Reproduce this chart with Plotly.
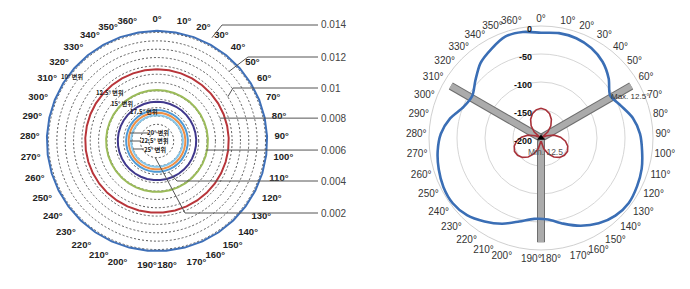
import math
import plotly.graph_objects as go

# ---------------- data ----------------
angle_labels = [f"{d}°" for d in range(0, 361, 10)]  # 37 category labels (0°..360°)

# Left chart: level for each displacement (circles, constant around)
disp_labels = ["10° 변위", "12.5° 변위", "15° 변위", "17.5° 변위", "20° 변위", "22.5° 변위", "25° 변위"]
disp_10 = [0.0132] * 37
disp_12_5 = [0.0086] * 37
disp_15 = [0.0061] * 37
disp_17_5 = [0.0047] * 37
disp_20 = [0.0037] * 37
disp_22_5 = [0.0034] * 37
disp_25 = [0.0031] * 37
disp_series = [disp_10, disp_12_5, disp_15, disp_17_5, disp_20, disp_22_5, disp_25]
left_radial_labels = [0.014, 0.012, 0.010, 0.008, 0.006, 0.004, 0.002]

# Right chart: gain pattern (dB)
blue_gain = [-12, -10, -11, -16, -25, -39, -55, -46, -32, -23, -18, -12, -8, -5, -8, -16,
             -28, -42, -54, -55, -46, -32, -20, -9, -4, -5, -9, -14, -21, -34, -51, -56,
             -44, -28, -18, -8, -8]
red_gain = [-147, -149, -154, -162, -172, -184, -198, -189, -176, -165, -156, -150, -147,
            -148, -152, -159, -169, -180, -193, -193, -180, -169, -159, -152, -148, -147,
            -150, -156, -165, -176, -189, -198, -184, -172, -162, -154, -149]
right_radial_ticks = [-200, -150, -100, -50, 0]
bar_angles = [60, 180, 300]
bar_reach = -14

# ---------------- style / layout ----------------
W, H = 690, 289
disp_colors = ["#3E6FB7", "#B8353A", "#9BBB59", "#40388C", "#4E9AD6", "#EE8F45", "#86C5E8"]

LC = (157, 141, 117)   # left polar center x, y and radius in px
RC = (541, 138, 112)   # right polar center x, y and radius in px


def dom(c):
    cx, cy, r = c
    return dict(x=[(cx - r) / W, (cx + r) / W], y=[1 - (cy + r) / H, 1 - (cy - r) / H])


def px(x, y):
    return x / W, 1 - y / H


def left_point(value, ang):
    cx, cy, R = LC
    rr = value / 0.014 * R
    return cx + rr * math.sin(math.radians(ang)), cy - rr * math.cos(math.radians(ang))


fig = go.Figure()

# left chart traces
for vals, col in zip(disp_series, disp_colors):
    fig.add_trace(go.Scatterpolar(
        r=vals + [vals[0]], theta=angle_labels + [angle_labels[0]], mode="lines",
        line=dict(color=col, width=2), subplot="polar", showlegend=False, hoverinfo="skip"))

# right chart: grid + labels carrier
fig.add_trace(go.Scatterpolar(r=[-200] * 37, theta=angle_labels, mode="markers",
                              marker=dict(size=1, opacity=0), subplot="polar2",
                              showlegend=False, hoverinfo="skip"))
# bars
for a in bar_angles:
    fig.add_trace(go.Scatterpolar(r=[-200, bar_reach], theta=[a, a], mode="lines",
                                  line=dict(color="#6E6E6E", width=8), subplot="polar3",
                                  showlegend=False, hoverinfo="skip"))
    fig.add_trace(go.Scatterpolar(r=[-200, bar_reach], theta=[a, a], mode="lines",
                                  line=dict(color="#ABABAB", width=6), subplot="polar3",
                                  showlegend=False, hoverinfo="skip"))
# data
fig.add_trace(go.Scatterpolar(r=blue_gain + [blue_gain[0]], theta=angle_labels + [angle_labels[0]],
                              mode="lines", line=dict(color="#3A6EB5", width=2.6, shape="spline", smoothing=0.8),
                              subplot="polar4", showlegend=False, hoverinfo="skip"))
fig.add_trace(go.Scatterpolar(r=red_gain + [red_gain[0]], theta=angle_labels + [angle_labels[0]],
                              mode="lines", line=dict(color="#A8323A", width=1.6, shape="linear"),
                              subplot="polar4", showlegend=False, hoverinfo="skip"))
fig.add_trace(go.Scatterpolar(r=[-200], theta=[angle_labels[0]], mode="markers",
                              marker=dict(symbol="triangle-up", size=7, color="black"),
                              subplot="polar4", showlegend=False, hoverinfo="skip"))

hidden_ang = dict(visible=False, direction="clockwise", rotation=90)
fig.update_layout(
    width=W, height=H, margin=dict(l=0, r=0, t=0, b=0),
    paper_bgcolor="white", plot_bgcolor="white", showlegend=False,
    polar=dict(
        domain=dom(LC), bgcolor="white",
        angularaxis=dict(type="category", categoryorder="array", categoryarray=angle_labels,
                         direction="clockwise", rotation=90, showgrid=False, showline=False,
                         ticks="", tickfont=dict(size=9.5, color="#222", family="Liberation Sans", weight="bold")),
        radialaxis=dict(range=[0, 0.01402], tickvals=[i / 1000 for i in range(1, 15)],
                        showticklabels=False, ticks="", showline=False,
                        gridcolor="#5A5A5A", griddash="2px,2px", gridwidth=1.3),
    ),
    polar2=dict(
        domain=dom(RC), bgcolor="white",
        angularaxis=dict(type="category", categoryorder="array", categoryarray=angle_labels,
                         direction="clockwise", rotation=90, showgrid=False, showline=True,
                         linecolor="#D0D0D0", linewidth=1, ticks="",
                         tickfont=dict(size=10, color="#333", family="Liberation Sans")),
        radialaxis=dict(range=[-200, 0], tickvals=right_radial_ticks, showline=False, ticks="",
                        gridcolor="#D6D6D6", gridwidth=1, angle=90, showticklabels=False),
    ),
    polar3=dict(
        domain=dom(RC), bgcolor="rgba(0,0,0,0)",
        angularaxis=dict(visible=False, direction="clockwise", rotation=90, thetaunit="degrees"),
        radialaxis=dict(visible=False, range=[-200, 0]),
    ),
    polar4=dict(
        domain=dom(RC), bgcolor="rgba(0,0,0,0)",
        angularaxis=dict(type="category", categoryorder="array", categoryarray=angle_labels, **hidden_ang),
        radialaxis=dict(visible=False, range=[-200, 0]),
    ),
)

# leader lines and value labels for left chart
leader_angle = [28, 46, 58, 70, 100.4, 159, 186]
leader_elbow_x = [222, 248, 233, None, None, 177, 185]
leader_y = [25, 57, 88, 118, 150, 181, 213]
shapes = []
annots = []
for val, ang, ex, ly in zip(left_radial_labels, leader_angle, leader_elbow_x, leader_y):
    x0, y0 = left_point(val, ang)
    if ex is None:
        ex = x0
        ly_line = y0
    else:
        ly_line = ly
    a0 = px(x0, y0)
    a1 = px(ex, ly_line)
    a2 = px(318, ly_line)
    line = dict(color="#555", width=1)
    if ex != x0:
        shapes.append(dict(type="line", xref="paper", yref="paper", x0=a0[0], y0=a0[1], x1=a1[0], y1=a1[1], line=line))
    shapes.append(dict(type="line", xref="paper", yref="paper", x0=a1[0], y0=a1[1], x1=a2[0], y1=a2[1], line=line))
    tx, ty = px(319, ly_line)
    annots.append(dict(x=tx, y=ty, xref="paper", yref="paper", text=f"{val:g}", showarrow=False,
                       xanchor="left", yanchor="middle", font=dict(size=10, color="#444", family="Liberation Sans")))

# displacement labels on the left chart
disp_label_pos = [(72, 77), (110, 92), (122, 103), (143, 112), (158, 133), (154, 141), (155, 149)]
for txt, (lx, ly) in zip(disp_labels, disp_label_pos):
    ax_, ay_ = px(lx, ly)
    annots.append(dict(x=ax_, y=ay_, xref="paper", yref="paper", text=txt, showarrow=False,
                       xanchor="center", yanchor="middle",
                       font=dict(size=6, color="#222", family="Noto Sans CJK KR", weight="bold")))
for (x0, x1, yy) in [(130, 148, 133), (130, 141, 141), (133, 144, 149)]:
    a, b = px(x0, yy)
    c, d = px(x1, yy)
    shapes.append(dict(type="line", xref="paper", yref="paper", x0=a, y0=b, x1=c, y1=d,
                       line=dict(color="#555", width=1)))

# right chart radial tick labels (horizontal, left of the 0° axis)
cx, cy, R = RC
for v in right_radial_ticks:
    rp = (v - right_radial_ticks[0]) / (right_radial_ticks[-1] - right_radial_ticks[0]) * R
    lx, ly = px(cx - 7, cy - rp + 3)
    annots.append(dict(x=lx, y=ly, xref="paper", yref="paper", text=f"{v}", showarrow=False,
                       xanchor="right", yanchor="middle",
                       font=dict(size=9, color="#111", family="Liberation Sans", weight="bold")))

# right chart text
mx, my = px(609, 96)
annots.append(dict(x=mx, y=my, xref="paper", yref="paper", text="Max. 12.5°", showarrow=False,
                   xanchor="left", yanchor="middle", font=dict(size=8, color="#333", family="Liberation Sans")))
nx, ny = px(545, 152)
annots.append(dict(x=nx, y=ny, xref="paper", yref="paper", text="Min. 12.5", showarrow=False,
                   xanchor="center", yanchor="middle", font=dict(size=8.5, color="#555", family="Liberation Sans")))

fig.update_layout(shapes=shapes, annotations=annots)
fig.write_html("out.html")
